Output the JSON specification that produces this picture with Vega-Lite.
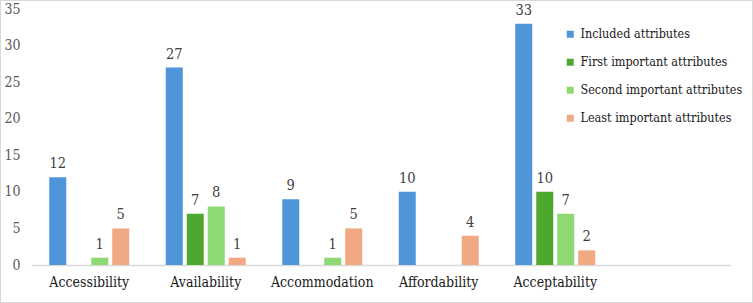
{
  "$schema": "https://vega.github.io/schema/vega-lite/v6.json",
  "width": 753,
  "height": 303,
  "autosize": {"type": "none"},
  "padding": 0,
  "background": "white",
  "config": {
    "view": {"stroke": "#d9d9d9", "strokeWidth": 2},
    "font": "DejaVu Serif Condensed"
  },
  "data": {
    "values": [
      {"category": "Accessibility", "series": "Included attributes", "value": 12},
      {"category": "Accessibility", "series": "Second important attributes", "value": 1},
      {"category": "Accessibility", "series": "Least important attributes", "value": 5},
      {"category": "Availability", "series": "Included attributes", "value": 27},
      {"category": "Availability", "series": "First important attributes", "value": 7},
      {"category": "Availability", "series": "Second important attributes", "value": 8},
      {"category": "Availability", "series": "Least important attributes", "value": 1},
      {"category": "Accommodation", "series": "Included attributes", "value": 9},
      {"category": "Accommodation", "series": "Second important attributes", "value": 1},
      {"category": "Accommodation", "series": "Least important attributes", "value": 5},
      {"category": "Affordability", "series": "Included attributes", "value": 10},
      {"category": "Affordability", "series": "Least important attributes", "value": 4},
      {"category": "Acceptability", "series": "Included attributes", "value": 33},
      {"category": "Acceptability", "series": "First important attributes", "value": 10},
      {"category": "Acceptability", "series": "Second important attributes", "value": 7},
      {"category": "Acceptability", "series": "Least important attributes", "value": 2}
    ]
  },
  "encoding": {
    "x": {
      "field": "category",
      "type": "nominal",
      "sort": null,
      "scale": {
        "domain": ["Accessibility", "Availability", "Accommodation", "Affordability", "Acceptability", " "],
        "range": [31, 730],
        "paddingInner": 0,
        "paddingOuter": 0
      },
      "axis": {
        "title": null,
        "orient": "bottom",
        "offset": -38,
        "ticks": false,
        "labelAngle": 0,
        "labelPadding": 10,
        "labelFontSize": 14,
        "labelColor": "#1a1a1a",
        "labelFont": "DejaVu Serif Condensed",
        "domainColor": "#d9d9d9",
        "domainWidth": 1.5,
        "grid": false
      }
    },
    "xOffset": {
      "field": "series",
      "type": "nominal",
      "scale": {
        "domain": ["Included attributes", "First important attributes", "Second important attributes", "Least important attributes"],
        "paddingInner": 0.19,
        "paddingOuter": 0.87
      }
    },
    "y": {
      "field": "value",
      "type": "quantitative",
      "scale": {"domain": [0, 35], "range": [265, 9], "nice": false},
      "axis": {
        "title": null,
        "orient": "left",
        "offset": -25,
        "values": [0, 5, 10, 15, 20, 25, 30, 35],
        "ticks": false,
        "domain": false,
        "grid": false,
        "labelPadding": 5,
        "labelFontSize": 14,
        "labelColor": "#595959",
        "labelFont": "DejaVu Serif Condensed"
      }
    }
  },
  "layer": [
    {
      "mark": {"type": "bar"},
      "encoding": {
        "color": {
          "field": "series",
          "type": "nominal",
          "scale": {
            "domain": ["Included attributes", "First important attributes", "Second important attributes", "Least important attributes"],
            "range": ["#4E95D9", "#4EA72E", "#8ED973", "#F1A983"]
          },
          "legend": {
            "title": null,
            "orient": "none",
            "legendX": 564,
            "legendY": 28,
            "symbolType": "square",
            "symbolSize": 49,
            "symbolStrokeWidth": 0,
            "labelFontSize": 12.5,
            "labelFont": "DejaVu Serif Condensed",
            "labelColor": "#1a1a1a",
            "labelOffset": 4,
            "rowPadding": 15,
            "labelLimit": 300
          }
        }
      }
    },
    {
      "mark": {"type": "text", "baseline": "bottom", "dy": -6, "fontSize": 14.5, "font": "DejaVu Serif Condensed", "color": "#404040"},
      "encoding": {
        "text": {"field": "value", "type": "quantitative"}
      }
    }
  ]
}
